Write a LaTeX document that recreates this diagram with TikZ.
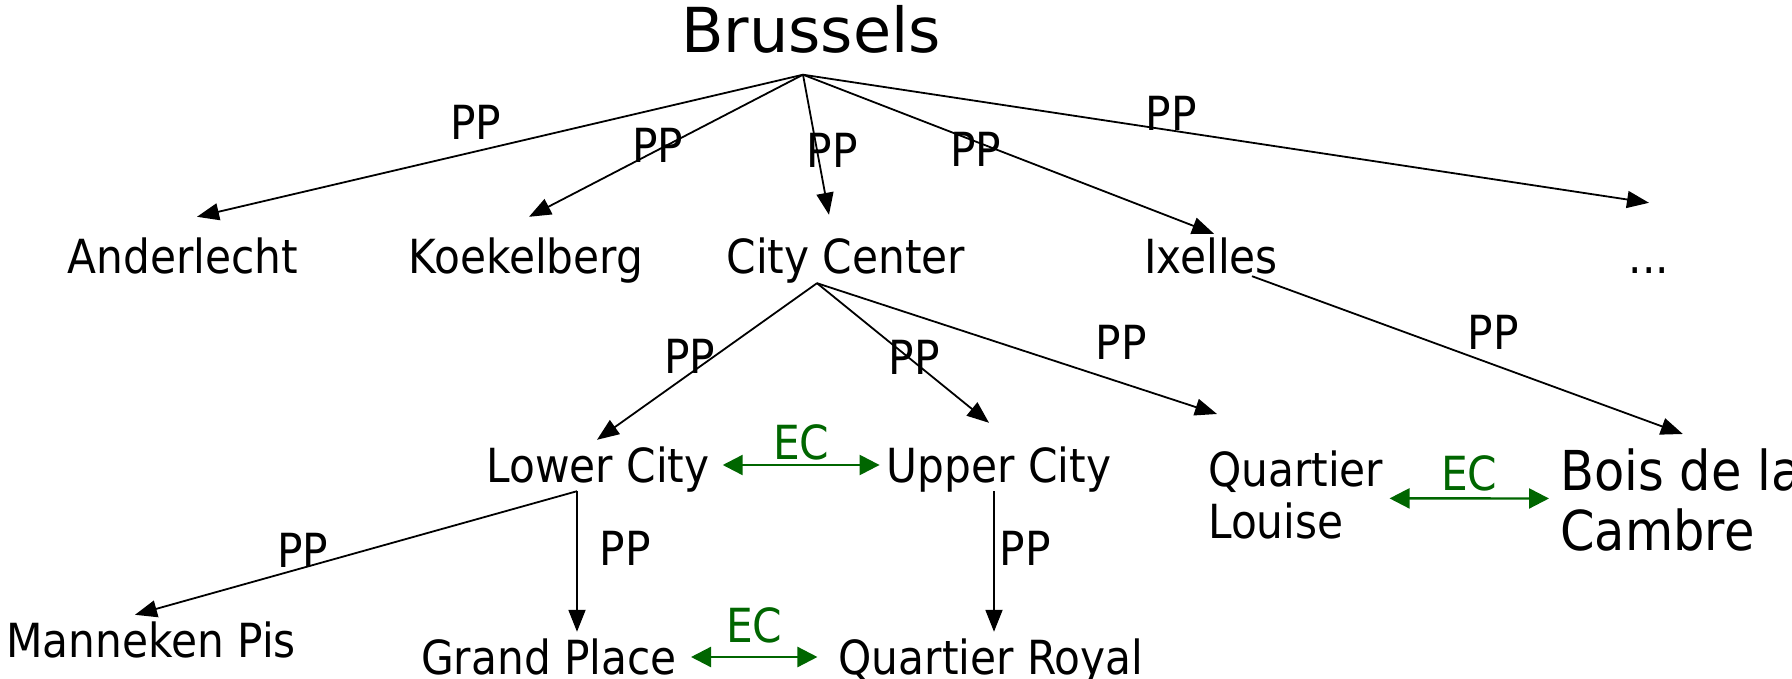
\documentclass[tikz,border=0pt]{standalone}
\usepackage{fontspec}
\setmainfont[FakeStretch=0.9]{DejaVu Sans}
\newfontfamily\titlefont{DejaVu Sans}
\usetikzlibrary{arrows.meta}

\definecolor{ecgreen}{RGB}{0,102,0}

\tikzset{
  place/.style={font=\fontsize{47}{52}\selectfont, inner sep=0pt, text height=34pt, text depth=0pt},
  twoline/.style={inner sep=0pt, align=left, anchor=north west},
  pp/.style={line width=1.8pt, -{Triangle[length=22pt,width=17pt]}},
  ec/.style={draw=ecgreen, line width=2.4pt, {Triangle[length=20pt,width=20pt]}-{Triangle[length=20pt,width=20pt]}},
  pplabel/.style={place},
  eclabel/.style={place, text=ecgreen},
}

\begin{document}
\begin{tikzpicture}[x=1pt,y=-1pt]
  \useasboundingbox (0,0) rectangle (1792,679);

  % places
  \node[place, font=\titlefont\fontsize{62}{70}\selectfont, text height=45pt] (brussels) at (811,30) {Brussels};
  \node[place] (anderlecht) at (183,257) {Anderlecht};
  \node[place] (koekelberg) at (526,257) {Koekelberg};
  \node[place] (citycenter) at (846,257) {City Center};
  \node[place] (ixelles) at (1211,257) {Ixelles};
  \node[place] (dots) at (1649,257) {...};
  \node[place] (lowercity) at (598,465) {Lower City};
  \node[place] (uppercity) at (999,465) {Upper City};
  \node[twoline, font=\fontsize{47}{52}\selectfont] (quartierlouise) at (1208,451) {Quartier\\Louise};
  \node[twoline, font=\fontsize{55}{60}\selectfont] (bois) at (1560,449) {Bois de la\\Cambre};
  \node[place] (manneken) at (151,640) {Manneken Pis};
  \node[place] (grandplace) at (549,657) {Grand Place};
  \node[place] (quartierroyal) at (991,657) {Quartier Royal};

  % where the edges leave
  \coordinate (bru-hub) at ([xshift=-8pt,yshift=-22pt]brussels.south);
  \coordinate (cc-hub) at ([xshift=-29pt,yshift=-9pt]citycenter.south);
  \coordinate (ix-hub) at ([xshift=41pt,yshift=-2pt]ixelles.south);
  \coordinate (low-hub) at ([xshift=-21pt,yshift=-9pt]lowercity.south);
  \coordinate (up-hub) at ([xshift=-5pt,yshift=-9pt]uppercity.south);

  % proper parts
  \draw[pp] (bru-hub) -- ([xshift=14pt,yshift=23pt]anderlecht.north) node[pplabel, pos=0.54, yshift=29pt] {PP};
  \draw[pp] (bru-hub) -- ([xshift=3pt,yshift=23pt]koekelberg.north) node[pplabel, pos=0.53, yshift=5pt] {PP};
  \draw[pp] (bru-hub) -- ([xshift=-17pt,yshift=25pt]citycenter.north) node[pplabel, pos=0.54, xshift=15pt] {PP};
  \draw[pp] (bru-hub) -- ([xshift=3pt,yshift=6pt]ixelles.north) node[pplabel, pos=0.42, yshift=-8pt] {PP};
  \draw[pp] (bru-hub) -- ([yshift=37pt]dots.north) node[pplabel, pos=0.435, yshift=17pt] {PP};

  \draw[pp] (cc-hub) -- ([xshift=-1pt,yshift=8pt]lowercity.north) node[pplabel, pos=0.47, xshift=-24pt] {PP};
  \draw[pp] (cc-hub) -- ([xshift=-10pt,yshift=25pt]uppercity.north) node[pplabel, pos=0.53, xshift=6pt] {PP};
  \draw[pp] (cc-hub) -- ([xshift=9pt,yshift=37pt]quartierlouise.north west) node[pplabel, pos=0.76, yshift=40pt] {PP};
  \draw[pp] (ix-hub) -- ([xshift=2pt,yshift=15pt]bois.north) node[pplabel, pos=0.56, yshift=32pt] {PP};

  \draw[pp] (low-hub) -- ([xshift=-16pt,yshift=8pt]manneken.north) node[pplabel, pos=0.62, yshift=17pt] {PP};
  \draw[pp] (low-hub) -- ([xshift=28pt,yshift=8pt]grandplace.north) node[pplabel, pos=0.41, xshift=48pt] {PP};
  \draw[pp] (up-hub) -- ([xshift=3pt,yshift=8pt]quartierroyal.north) node[pplabel, pos=0.41, xshift=31pt] {PP};

  % external connections
  \draw[ec] ([xshift=13pt]lowercity.east) -- ([xshift=-7pt]uppercity.west) node[eclabel, midway, yshift=23pt] {EC};
  \draw[ec] ([xshift=6pt,yshift=-3pt]quartierlouise.east) -- ([xshift=-11pt,yshift=2pt]bois.west) node[eclabel, midway, yshift=25pt] {EC};
  \draw[ec] ([xshift=14pt]grandplace.east) -- ([xshift=-21pt]quartierroyal.west) node[eclabel, midway, yshift=32pt] {EC};
\end{tikzpicture}
\end{document}
